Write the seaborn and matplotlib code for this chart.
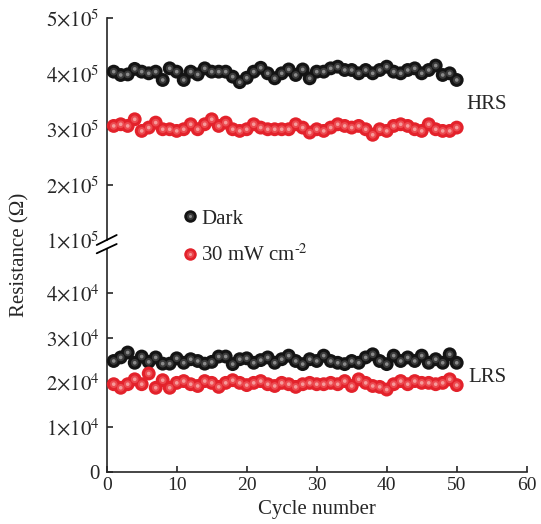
import numpy as np
import pandas as pd
import matplotlib
matplotlib.use('Agg')
import matplotlib.pyplot as plt
import seaborn as sns
from matplotlib.lines import Line2D

# ---------------- data ----------------
cycles = list(range(1, 51))
dark_hrs = [4.04, 3.98, 3.99, 4.09, 4.04, 4.01, 4.04, 3.89, 4.10, 4.04,
            3.89, 4.04, 3.99, 4.10, 4.04, 4.04, 4.04, 3.95, 3.85, 3.93,
            4.04, 4.11, 4.01, 3.92, 4.01, 4.08, 3.98, 4.08, 3.92, 4.04,
            4.04, 4.10, 4.13, 4.07, 4.07, 4.01, 4.07, 4.01, 4.07, 4.13,
            4.04, 4.01, 4.07, 4.10, 4.01, 4.07, 4.15, 3.98, 4.01, 3.89]
light_hrs = [3.06, 3.09, 3.06, 3.18, 2.97, 3.03, 3.12, 3.00, 3.00, 2.97,
             3.00, 3.09, 3.00, 3.09, 3.18, 3.06, 3.12, 3.00, 2.97, 3.00,
             3.09, 3.03, 3.00, 3.00, 3.00, 3.00, 3.09, 3.03, 2.94, 3.00,
             2.97, 3.03, 3.09, 3.06, 3.03, 3.06, 3.00, 2.90, 3.00, 2.97,
             3.06, 3.09, 3.06, 3.00, 2.97, 3.09, 3.00, 2.97, 2.97, 3.03]
dark_lrs = [2.48, 2.56, 2.67, 2.44, 2.58, 2.46, 2.56, 2.42, 2.42, 2.54,
            2.44, 2.52, 2.48, 2.42, 2.46, 2.58, 2.58, 2.41, 2.52, 2.54,
            2.44, 2.50, 2.56, 2.44, 2.52, 2.60, 2.48, 2.41, 2.52, 2.48,
            2.60, 2.48, 2.44, 2.41, 2.48, 2.44, 2.56, 2.63, 2.48, 2.41,
            2.60, 2.48, 2.56, 2.48, 2.60, 2.44, 2.52, 2.44, 2.63, 2.44]
light_lrs = [1.96, 1.88, 1.96, 2.07, 1.96, 2.20, 1.88, 2.05, 1.88, 1.99,
             2.03, 1.96, 1.92, 2.03, 1.99, 1.90, 1.99, 2.05, 1.99, 1.94,
             1.99, 2.03, 1.96, 1.92, 1.99, 1.96, 1.90, 1.96, 1.99, 1.96,
             1.96, 1.99, 1.96, 2.03, 1.92, 2.07, 1.99, 1.92, 1.90, 1.84,
             1.96, 2.03, 1.96, 2.03, 1.99, 1.99, 1.96, 1.99, 2.07, 1.94]
hrs_unit = 1e5
lrs_unit = 1e4

conditions = ['Dark', r'30 mW cm$^{\text{-}2}$']
states = ['HRS', 'LRS']

x_ticks = [0, 10, 20, 30, 40, 50, 60]
x_tick_labels = ['0', '10', '20', '30', '40', '50', '60']
top_ticks = [1e5, 2e5, 3e5, 4e5, 5e5]
top_tick_labels = [r'$1{\times}10^{5}$', r'$2{\times}10^{5}$', r'$3{\times}10^{5}$',
                   r'$4{\times}10^{5}$', r'$5{\times}10^{5}$']
bottom_ticks = [0, 1e4, 2e4, 3e4, 4e4]
bottom_tick_labels = ['0', r'$1{\times}10^{4}$', r'$2{\times}10^{4}$',
                      r'$3{\times}10^{4}$', r'$4{\times}10^{4}$']
top_range = (1e5, 5e5)
bottom_range = (0, 5e4)
x_range = (0, 60)

# ---------------- style ----------------
sns.set_style('ticks')
plt.rcParams['font.family'] = ['Liberation Serif', 'DejaVu Serif']
plt.rcParams['mathtext.fontset'] = 'stix'

base_palette = {conditions[0]: '#141414', conditions[1]: '#e3222b'}
mid_palette = {conditions[0]: '#3a3a3a', conditions[1]: '#ec4a50'}
hl_palette = {conditions[0]: '#8a8a8a', conditions[1]: '#f79a9a'}

frames = []
for cond, hrs, lrs in [(conditions[0], dark_hrs, dark_lrs),
                       (conditions[1], light_hrs, light_lrs)]:
    frames.append(pd.DataFrame({'cycle': cycles, 'R': np.array(hrs) * hrs_unit,
                                'cond': cond, 'state': states[0]}))
    frames.append(pd.DataFrame({'cycle': cycles, 'R': np.array(lrs) * lrs_unit,
                                'cond': cond, 'state': states[1]}))
df = pd.concat(frames, ignore_index=True)

W, H = 541, 524
fig = plt.figure(figsize=(W / 100, H / 100), dpi=100)


def box(x0, y0, x1, y1):
    return [x0 / W, 1 - y1 / H, (x1 - x0) / W, (y1 - y0) / H]


ax_top = fig.add_axes(box(106.7, 18.5, 526.7, 240))
ax_bot = fig.add_axes(box(106.7, 248.5, 526.7, 471.7))

for ax, st in [(ax_top, states[0]), (ax_bot, states[1])]:
    sub = df[df.state == st]
    sns.scatterplot(data=sub, x='cycle', y='R', hue='cond', palette=base_palette,
                    s=100, linewidth=0, ax=ax, legend=False, zorder=3, clip_on=False)
    sns.scatterplot(data=sub, x='cycle', y='R', hue='cond', palette=mid_palette,
                    s=30, linewidth=0, ax=ax, legend=False, zorder=4, clip_on=False)
    sns.scatterplot(data=sub, x='cycle', y='R', hue='cond', palette=hl_palette,
                    s=7, linewidth=0, ax=ax, legend=False, zorder=5, clip_on=False)
    ax.set_xlabel('')
    ax.set_ylabel('')
    ax.set_xlim(*x_range)
    for sp in ax.spines.values():
        sp.set_linewidth(1.2)
    ax.spines['top'].set_visible(False)
    ax.spines['right'].set_visible(False)
    ax.tick_params(direction='in', length=4.5, width=1.2, labelsize=14, pad=4)
    ax.tick_params(axis='y', labelsize=15, pad=5)

ax_top.set_ylim(*top_range)
ax_top.set_yticks(top_ticks)
ax_top.set_yticklabels(top_tick_labels)
ax_top.spines['bottom'].set_visible(False)
ax_top.set_xticks([])
ax_top.yaxis.get_major_ticks()[0].tick1line.set_visible(False)

ax_bot.set_ylim(*bottom_range)
ax_bot.set_yticks(bottom_ticks)
ax_bot.set_yticklabels(bottom_tick_labels)
ax_bot.set_xticks(x_ticks)
ax_bot.set_xticklabels(x_tick_labels)
ax_bot.set_xlabel('Cycle number', fontsize=15, labelpad=4)

ax_top.text(51.4, 3.44e5, states[0], fontsize=15, va='center', ha='left')
ax_bot.text(51.7, 2.12e4, states[1], fontsize=15, va='center', ha='left')

fig.text(20 / W, 1 - 255 / H, 'Resistance (\u03a9)', rotation=90,
         ha='center', va='center', fontsize=15)

# axis break marks
for (x0, y0, x1, y1) in [(96.7, 245, 116.7, 235), (96.7, 253.3, 116.7, 244)]:
    fig.add_artist(Line2D([x0 / W, x1 / W], [1 - y0 / H, 1 - y1 / H],
                          transform=fig.transFigure, color='k', lw=1.3))

# legend
handles = []
for cond in conditions:
    handles.append((Line2D([], [], ls='', marker='o', ms=9, mfc=base_palette[cond], mec='none'),
                    Line2D([], [], ls='', marker='o', ms=5, mfc=mid_palette[cond], mec='none'),
                    Line2D([], [], ls='', marker='o', ms=2.2, mfc=hl_palette[cond], mec='none')))
fig.legend(handles=handles, labels=conditions, loc='center left',
           bbox_to_anchor=(181.7 / W, 1 - 237.5 / H), frameon=False, fontsize=15,
           handlelength=0.8, handletextpad=0.15, borderpad=0, borderaxespad=0,
           labelspacing=0.75)

fig.savefig('out.png', dpi=100)
